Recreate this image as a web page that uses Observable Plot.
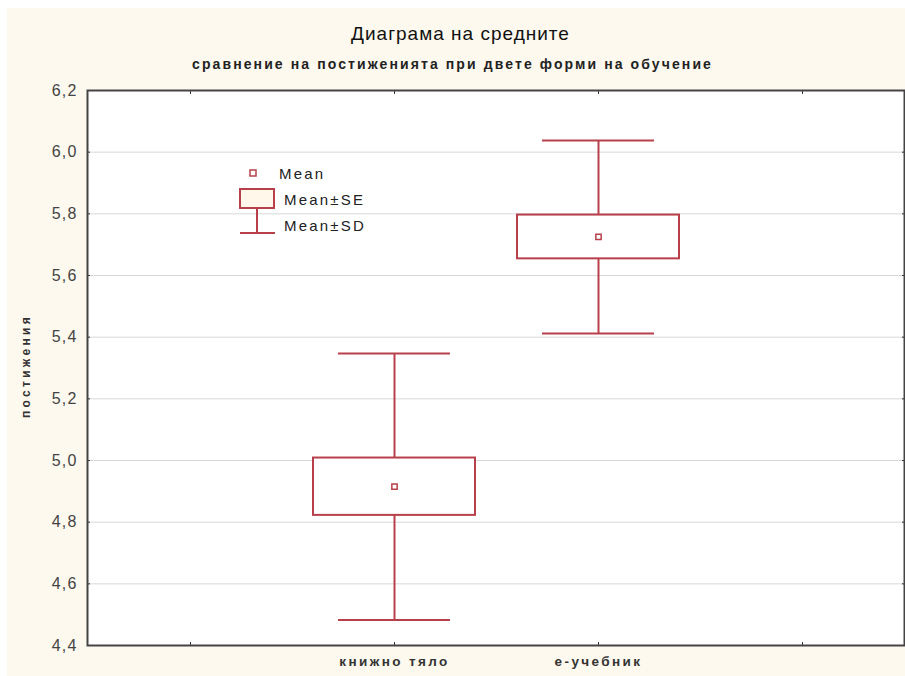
<!DOCTYPE html>
<html>
<head>
<meta charset="utf-8">
<script src="https://cdn.jsdelivr.net/npm/d3@7"></script>
<script src="https://cdn.jsdelivr.net/npm/@observablehq/plot@0.6"></script>
<style>
  body { margin: 0; background: #ffffff; font-family: "Liberation Sans", Arial, sans-serif; }
  #page { position: relative; width: 905px; height: 676px; overflow: hidden; background: #ffffff; }
  #panel { position: absolute; left: 7px; top: 8px; width: 898px; height: 668px; background: #fdf9ee; }
  #title { position: absolute; left: 8px; width: 905px; top: 23px; text-align: center; font-size: 19px; letter-spacing: 1px; color: #111; }
  #subtitle { position: absolute; left: 0; width: 905px; top: 56px; text-align: center; font-size: 14px; letter-spacing: 2.1px; font-weight: bold; color: #222; }
  #chart { position: absolute; left: 0; top: 80px; }
  #ylabel { position: absolute; left: 26px; top: 366px; transform: translate(-50%, -50%) rotate(-90deg); font-size: 12px; letter-spacing: 3.3px; font-weight: bold; color: #333; white-space: nowrap; }
  #chart svg g[aria-label="y-axis tick label"] text { letter-spacing: 1.2px; }
  #chart svg g[aria-label="x-axis tick label"] text { letter-spacing: 2.4px; }
</style>
</head>
<body>
<div id="page">
  <div id="panel"></div>
  <div id="title">Диаграма на средните</div>
  <div id="subtitle">сравнение на постиженията при двете форми на обучение</div>
  <div id="ylabel">постижения</div>
  <div id="chart"></div>
</div>
<script>
// Data
const categories = ["книжно тяло", "е-учебник"];
const means = [4.915, 5.725];
const se = [0.093, 0.071];
const sd = [0.432, 0.313];
const yTicks = [4.4, 4.6, 4.8, 5.0, 5.2, 5.4, 5.6, 5.8, 6.0, 6.2];
const legendItems = ["Mean", "Mean±SE", "Mean±SD"];

const slots = ["\u2002", ...categories, "\u2003"];
const rows = categories.map((c, i) => ({
  cat: c, mean: means[i],
  seLo: means[i] - se[i], seHi: means[i] + se[i],
  sdLo: means[i] - sd[i], sdHi: means[i] + sd[i]
}));

const red = "#b8404a";
const fmt = d => d3.format(".1f")(d).replace(".", ",");

const plot = Plot.plot({
  width: 905,
  height: 596,
  marginLeft: 87,
  marginRight: 1,
  marginTop: 10,
  marginBottom: 31,
  style: { background: "transparent", fontFamily: "Liberation Sans, Arial, sans-serif" },
  x: { type: "band", domain: slots, padding: 0, axis: null, label: null },
  y: { domain: [4.4, 6.2], axis: null, label: null },
  marks: [
    Plot.frame({ fill: "#ffffff" }),
    Plot.gridY(yTicks, { stroke: "#d8d8d8", strokeOpacity: 1, strokeWidth: 1 }),
    Plot.axisY(yTicks, { anchor: "left", label: null, tickSize: -3, tickPadding: 13, tickFormat: fmt, fontSize: 16, fill: "#444", stroke: "#333" }),
    Plot.axisY(yTicks, { anchor: "right", label: null, tickSize: -3, tickFormat: () => "", stroke: "#333" }),
    Plot.axisX(slots, { anchor: "bottom", label: null, tickSize: -3, tickPadding: 14, fontSize: 13.5, fontWeight: "bold", fill: "#333", stroke: "#333", tickFormat: d => d.trim() }),
    Plot.axisX(slots, { anchor: "top", label: null, tickSize: -3, tickFormat: () => "", stroke: "#333" }),
    // SD whiskers
    Plot.ruleX(rows, { x: "cat", y1: "sdLo", y2: "sdHi", stroke: red, strokeWidth: 2 }),
    Plot.tickY(rows, { x: "cat", y: "sdLo", stroke: red, strokeWidth: 2, insetLeft: 46, insetRight: 46 }),
    Plot.tickY(rows, { x: "cat", y: "sdHi", stroke: red, strokeWidth: 2, insetLeft: 46, insetRight: 46 }),
    // SE boxes
    Plot.barY(rows, { x: "cat", y1: "seLo", y2: "seHi", fill: "#ffffff", stroke: red, strokeWidth: 2, insetLeft: 21, insetRight: 21 }),
    // means
    Plot.dot(rows, { x: "cat", y: "mean", symbol: "square", r: 3, stroke: red, fill: "#fff", strokeWidth: 1.5 }),
    Plot.frame({ stroke: "#444", strokeWidth: 2 })
  ]
});
document.getElementById("chart").appendChild(plot);

// Legend (drawn as SVG overlay in page coordinates)
const lg = d3.select("#page").append("svg")
  .attr("width", 200).attr("height", 90)
  .style("position", "absolute").style("left", "230px").style("top", "160px");
lg.append("rect").attr("x", 20).attr("y", 10).attr("width", 6).attr("height", 6)
  .attr("fill", "#fff").attr("stroke", red).attr("stroke-width", 1.5);
lg.append("rect").attr("x", 10).attr("y", 29).attr("width", 34).attr("height", 19)
  .attr("fill", "#fff8ea").attr("stroke", red).attr("stroke-width", 2);
lg.append("line").attr("x1", 27).attr("x2", 27).attr("y1", 49).attr("y2", 73)
  .attr("stroke", red).attr("stroke-width", 2);
lg.append("line").attr("x1", 10).attr("x2", 45).attr("y1", 73).attr("y2", 73)
  .attr("stroke", red).attr("stroke-width", 2);
const ly = [19, 45, 71];
const lx = [49, 54, 54];
legendItems.forEach((t, i) => {
  lg.append("text").attr("x", lx[i]).attr("y", ly[i]).text(t)
    .attr("font-size", 15).attr("fill", "#222").attr("letter-spacing", "2.2px")
    .attr("font-family", "Liberation Sans, Arial, sans-serif");
});
</script>
</body>
</html>
